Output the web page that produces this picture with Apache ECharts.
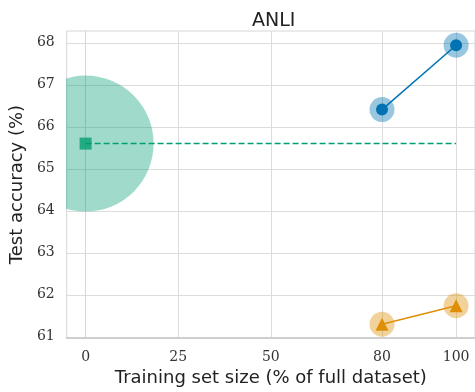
<!DOCTYPE html>
<html><head><meta charset="utf-8">
<script src="https://cdn.jsdelivr.net/npm/echarts@6/dist/echarts.min.js"></script>
<style>html,body{margin:0;padding:0;background:#fff}#c{width:475px;height:392px}</style>
</head><body><div id="c"></div>
<script>
// Data
const xTicks = [0, 25, 50, 80, 100];
const yTicks = [61, 62, 63, 64, 65, 66, 67, 68];
const blueX = [80, 100];
const blueY = [66.41, 67.94];
const orangeX = [80, 100];
const orangeY = [61.30, 61.74];
const greenX = [0];
const greenY = [65.6];
const greenLineX = [0, 100];

const BLUE = '#0173b2', ORANGE = '#de8f05', GREEN = '#029e73';
const pairs = (xs, ys) => xs.map((x, i) => [x, ys[i]]);
const serif = 'DejaVu Serif';
const sans = 'DejaVu Sans';

const chart = echarts.init(document.getElementById('c'), null, {renderer: 'canvas'});
chart.setOption({
  animation: false,
  title: {text: 'ANLI', left: 247, top: 7,
    textStyle: {fontFamily: sans, fontSize: 19, fontWeight: 'normal', color: '#222'}},
  grid: {left: 65, right: 0, top: 31, bottom: 53, show: true, borderColor: '#d6d6d6', borderWidth: 1},
  xAxis: {type: 'value', min: -5.1, max: 105.1,
    name: 'Training set size (% of full dataset)', nameLocation: 'middle', nameGap: 28,
    nameTextStyle: {fontFamily: sans, fontSize: 18, color: '#222'},
    axisLine: {show: true, lineStyle: {color: '#cfcfcf', width: 2}},
    axisTick: {show: false, customValues: xTicks},
    axisLabel: {customValues: xTicks, fontFamily: serif, fontSize: 14, color: '#333', margin: 12},
    splitLine: {show: true, lineStyle: {color: '#dcdcdc', width: 1}}},
  yAxis: {type: 'value', min: 60.97, max: 68.28,
    name: 'Test accuracy (%)', nameLocation: 'middle', nameGap: 32,
    nameTextStyle: {fontFamily: sans, fontSize: 18, color: '#222'},
    axisLine: {show: true, lineStyle: {color: '#d6d6d6', width: 1}},
    axisTick: {show: false, customValues: yTicks},
    axisLabel: {customValues: yTicks, fontFamily: serif, fontSize: 14, color: '#333', margin: 12},
    splitLine: {show: true, lineStyle: {color: '#dcdcdc', width: 1}}},
  series: [
    {type: 'custom', clip: true, data: pairs(greenX, greenY), z: 1,
      renderItem: function (params, api) {
        const p = api.coord([api.value(0), api.value(1)]);
        return {type: 'circle', shape: {cx: p[0], cy: p[1], r: 68},
          style: {fill: GREEN, opacity: 0.38}};
      }},
    {type: 'scatter', data: pairs(blueX, blueY), symbolSize: 25, z: 2,
      itemStyle: {color: BLUE, opacity: 0.4}},
    {type: 'scatter', data: pairs(orangeX, orangeY), symbolSize: 25, z: 2,
      itemStyle: {color: ORANGE, opacity: 0.4}},
    {type: 'line', data: pairs(greenLineX, [greenY[0], greenY[0]]), symbol: 'none', z: 3,
      lineStyle: {color: GREEN, width: 1.5, type: [6, 3]}},
    {type: 'line', data: pairs(blueX, blueY), symbol: 'circle', symbolSize: 12, z: 4,
      lineStyle: {color: BLUE, width: 1.5}, itemStyle: {color: BLUE}},
    {type: 'line', data: pairs(orangeX, orangeY), symbol: 'triangle', symbolSize: 13, z: 4,
      lineStyle: {color: ORANGE, width: 1.5}, itemStyle: {color: ORANGE}},
    {type: 'scatter', data: pairs(greenX, greenY), symbol: 'rect', symbolSize: 12, z: 4,
      itemStyle: {color: GREEN}}
  ]
});
</script></body></html>
